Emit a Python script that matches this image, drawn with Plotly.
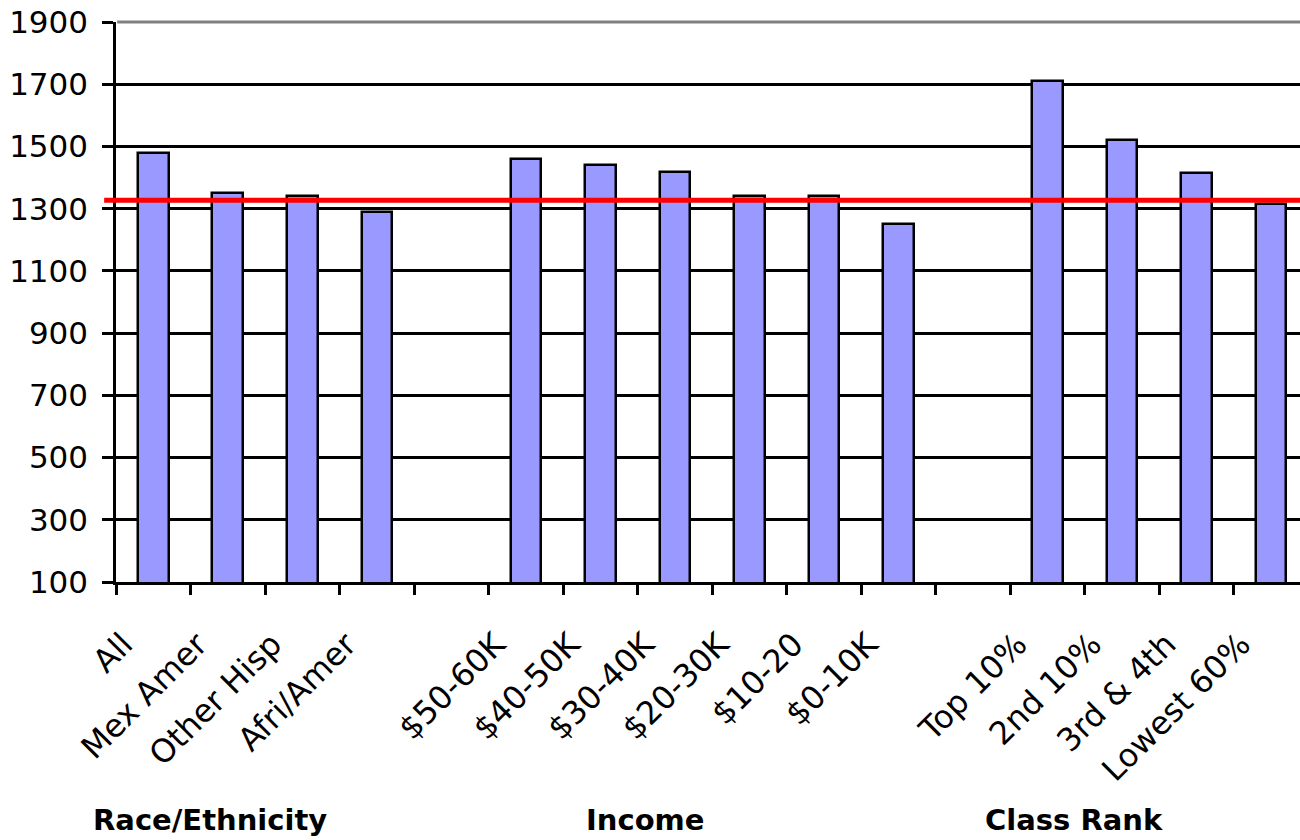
import plotly.graph_objects as go

# Score by student group, three groups separated by empty slots
race_labels = ["All", "Mex Amer", "Other Hisp", "Afri/Amer"]
race_scores = [1480, 1350, 1340, 1290]

income_labels = ["$50-60K", "$40-50K", "$30-40K", "$20-30K", "$10-20", "$0-10K"]
income_scores = [1460, 1440, 1417, 1340, 1340, 1250]

rank_labels = ["Top 10%", "2nd 10%", "3rd & 4th", "Lowest 60%"]
rank_scores = [1710, 1520, 1415, 1315]

reference_score = 1327

group_titles = ["Race/Ethnicity", "Income", "Class Rank"]
y_ticks = list(range(100, 2000, 200))

# one empty category between consecutive groups (distinct blank names)
categories = race_labels + [" "] + income_labels + ["  "] + rank_labels
values = race_scores + [None] + income_scores + [None] + rank_scores

FONT = "DejaVu Sans"

fig = go.Figure()
fig.add_trace(go.Bar(
    x=categories,
    y=values,
    width=0.41,
    marker=dict(color="#9999FF", line=dict(color="black", width=2.5)),
    showlegend=False,
))

fig.update_layout(
    width=1300,
    height=840,
    margin=dict(l=116, r=0, t=22, b=258),
    plot_bgcolor="white",
    paper_bgcolor="white",
    font=dict(family=FONT, size=30, color="black"),
    bargap=0,
    xaxis=dict(
        type="category",
        categoryorder="array",
        categoryarray=categories,
        range=[-0.5, 15.39],
        tickangle=-45,
        tickson="boundaries",
        ticks="outside",
        ticklen=10,
        tickwidth=2.5,
        tickcolor="black",
        ticklabelstandoff=28,
        ticklabelshift=-30,
        showline=True,
        linecolor="black",
        linewidth=2.5,
        showgrid=False,
        tickfont=dict(family=FONT, size=32),
    ),
    yaxis=dict(
        range=[100, 1900],
        tickvals=y_ticks,
        ticks="outside",
        ticklen=11,
        tickwidth=2.5,
        tickcolor="black",
        ticklabelstandoff=8,
        showline=True,
        linecolor="black",
        linewidth=2.5,
        showgrid=True,
        gridcolor="black",
        gridwidth=2.5,
        zeroline=False,
        tickfont=dict(family=FONT, size=31),
    ),
)

# grey top border of the plot area
fig.add_shape(type="line", xref="paper", yref="paper", x0=0.001, x1=1,
              y0=1, y1=1, line=dict(color="#808080", width=3), layer="above")

# reference score line
fig.add_shape(type="line", xref="paper", yref="y", x0=-0.01, x1=1,
              y0=reference_score, y1=reference_score,
              line=dict(color="#FF0000", width=5), layer="above")

# group titles under the tick labels
for title, xp in zip(group_titles, [0.0794, 0.4468, 0.809]):
    fig.add_annotation(text="<b>%s</b>" % title, xref="paper", yref="paper",
                       x=xp, y=-0.425, xanchor="center", yanchor="middle",
                       showarrow=False, font=dict(family=FONT, size=29))

fig.write_html("out.html")
